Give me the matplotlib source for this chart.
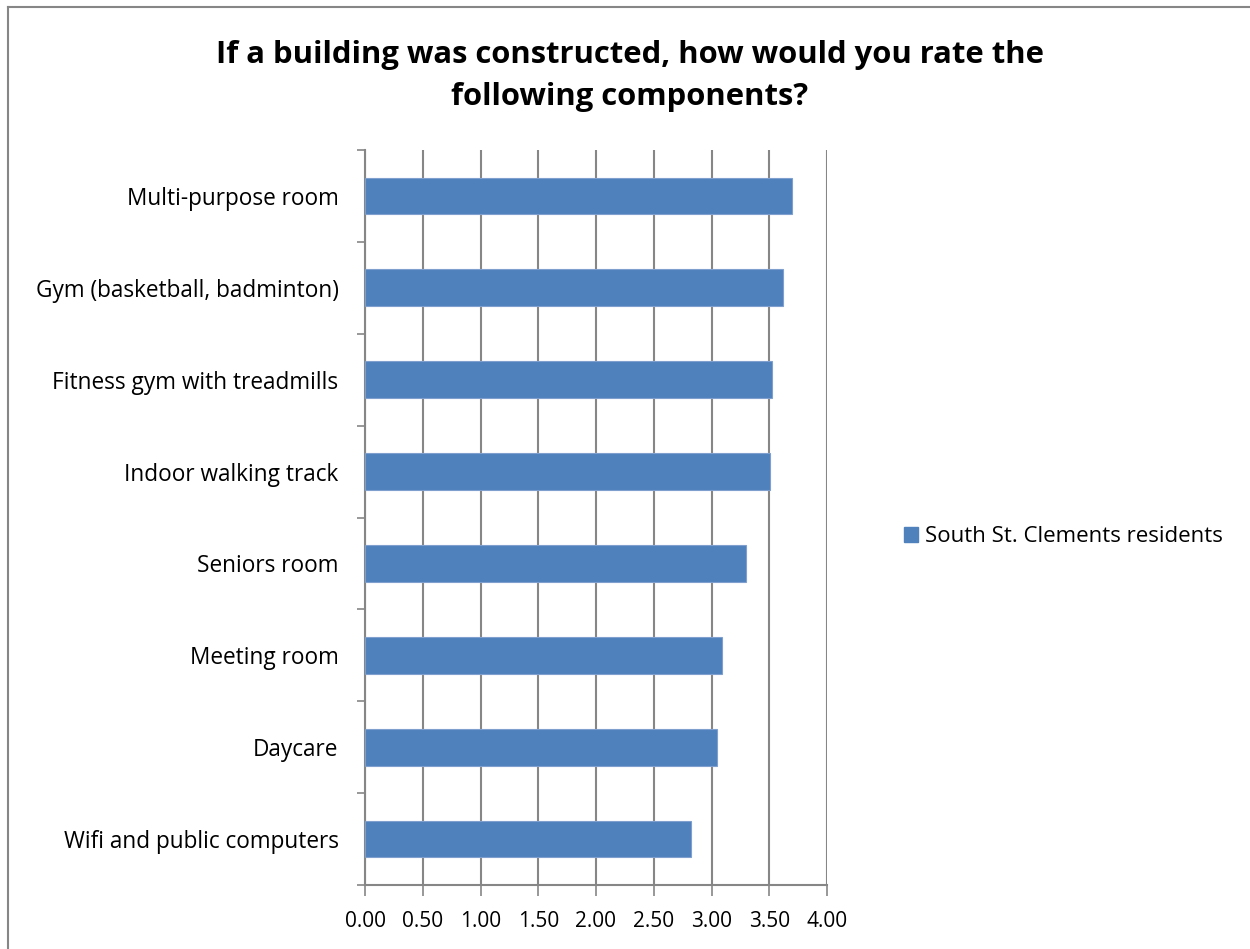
import matplotlib.pyplot as plt
from matplotlib.lines import Line2D
from matplotlib.patches import Patch

# Данные
categories = ['Multi-purpose room', 'Gym (basketball, badminton)', 'Fitness gym with treadmills',
              'Indoor walking track', 'Seniors room', 'Meeting room', 'Daycare',
              'Wifi and public computers']
values = [3.70, 3.62, 3.52, 3.51, 3.30, 3.09, 3.05, 2.82]
series_name = 'South St. Clements residents'
xticks = [0, 0.5, 1, 1.5, 2, 2.5, 3, 3.5, 4]

plt.rcParams['font.family'] = ['Open Sans', 'DejaVu Sans']

W, H = 1250, 949
fig = plt.figure(figsize=(W / 100, H / 100), dpi=100)
ax = fig.add_axes([365 / W, 1 - 885 / H, (827 - 365) / W, (885 - 150) / H])

ypos = list(range(len(categories)))
ax.barh(ypos, values, height=0.4, color='#4F81BD', edgecolor='#7FA0CF', linewidth=0.8, zorder=3)

ax.set_xlim(0, 4)
ax.set_ylim(len(categories) - 0.5, -0.5)
ax.set_xticks(xticks)
ax.set_xticklabels(['%.2f' % t for t in xticks], fontsize=15)
ax.set_yticks(ypos)
ax.set_yticklabels(categories, fontsize=16.3)
ax.tick_params(axis='y', length=0, pad=19)
ax.tick_params(axis='x', length=8, color='#868686', width=1.2, pad=11)
ax.set_yticks([i - 0.5 for i in range(len(categories) + 1)], minor=True)
ax.tick_params(axis='y', which='minor', length=6, color='#868686', width=1.2)

ax.grid(axis='x', color='#868686', linewidth=1.5, zorder=0)
for s in ['top', 'right']:
    ax.spines[s].set_visible(False)
for s in ['left', 'bottom']:
    ax.spines[s].set_color('#868686')
    ax.spines[s].set_linewidth(1.5)

fig.text(630 / W, 1 - 76 / H, 'If a building was constructed, how would you rate the\nfollowing components?',
         ha='center', va='center', fontsize=22.3, fontweight='bold', linespacing=1.55)

ax.legend(handles=[Patch(facecolor='#4F81BD', edgecolor='#4F81BD', label=series_name)],
          loc='center left', bbox_to_anchor=(884 / W, 1 - 537 / H), bbox_transform=fig.transFigure,
          frameon=False, fontsize=16, handlelength=0.65, handleheight=0.65, handletextpad=0.3)

# рамка
fig.add_artist(Line2D([8 / W, 8 / W], [0, 1 - 7 / H], color='#868686', linewidth=1.5))
fig.add_artist(Line2D([8 / W, 1], [1 - 7 / H, 1 - 7 / H], color='#868686', linewidth=1.5))

fig.savefig('out.png', dpi=100)
